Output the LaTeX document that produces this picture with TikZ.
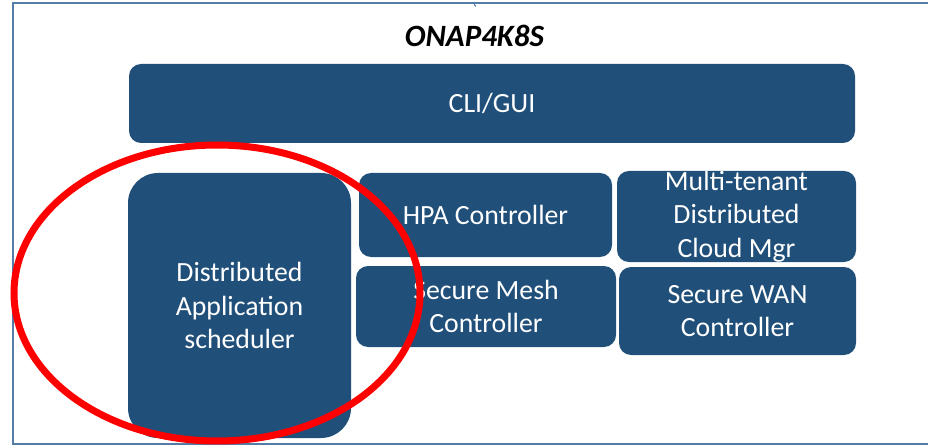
\documentclass[tikz,border=0pt]{standalone}
\usepackage{fontspec}
\setmainfont{Carlito}
\usetikzlibrary{shapes.geometric}
\definecolor{boxblue}{RGB}{32,79,121}
\definecolor{frameblue}{RGB}{84,124,168}
\definecolor{ovalred}{RGB}{255,0,0}
\begin{document}
\begin{tikzpicture}[x=1pt,y=-1pt,
  block/.style={fill=boxblue, draw=none, rounded corners=12pt, inner sep=0pt,
    text=white, align=center, font=\fontsize{27.8}{33.5}\selectfont},
  frameline/.style={draw=frameblue, line width=2pt}]
\useasboundingbox (0,0) rectangle (928,446);
% outer frame (left, top, bottom edges)
\coordinate (ftr) at (928,3);
\coordinate (ftl) at (13,3);
\coordinate (fbl) at (13,444);
\coordinate (fbr) at (928,444);
\draw[frameline] (ftr) -- (ftl) -- (fbl) -- (fbr);
\coordinate (tick) at (474,3);
\draw[frameblue, line width=1pt] (tick) arc[start angle=180, end angle=240, radius=4pt];
% title
\node[anchor=base, font=\fontsize{31}{36}\selectfont\bfseries\itshape] (title) at (474.5,47) {ONAP4K8S};
% boxes
\node[block, minimum width=726pt, minimum height=79pt] (cli) at (492,103.5) {CLI/GUI};
\node[block, rounded corners=30pt, minimum width=223pt, minimum height=265pt] (das) at (239.5,305.5) {Distributed\\Application\\scheduler};
\node[block, minimum width=253pt, minimum height=84pt] (hpa) at (485.5,215) {HPA Controller};
\node[block, minimum width=239pt, minimum height=83pt] (mtd) at (736.5,216.5) {Multi-tenant\\Distributed\\Cloud Mgr};
\node[block, minimum width=260pt, minimum height=81pt] (mesh) at (486,306.5) {Secure Mesh\\Controller};
\node[block, minimum width=237pt, minimum height=88pt] (wan) at (737.5,311) {Secure WAN\\Controller};
% red oval
\node[draw=ovalred, line width=7pt, ellipse, minimum width=406pt, minimum height=296pt, inner sep=0pt] (oval) at (217,293) {};
\end{tikzpicture}
\end{document}
